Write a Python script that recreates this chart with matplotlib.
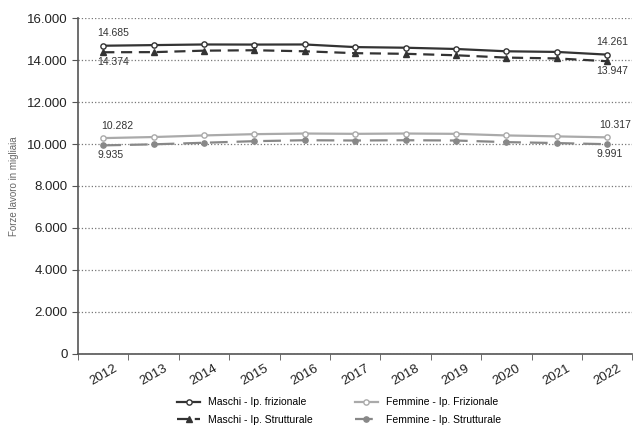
import matplotlib
matplotlib.use("Agg")
import matplotlib.pyplot as plt
import numpy as np

plt.rcParams['font.family'] = ['Liberation Sans', 'DejaVu Sans']

years = ["2012", "2013", "2014", "2015", "2016", "2017", "2018", "2019", "2020", "2021", "2022"]
maschi_friz = [14685, 14715, 14745, 14740, 14745, 14620, 14590, 14530, 14420, 14390, 14261]
maschi_strut = [14374, 14380, 14450, 14470, 14420, 14330, 14300, 14230, 14120, 14080, 13947]
femmine_friz = [10282, 10333, 10409, 10470, 10500, 10485, 10500, 10485, 10409, 10364, 10317]
femmine_strut = [9935, 9985, 10060, 10136, 10180, 10167, 10180, 10167, 10090, 10045, 9991]

fig = plt.figure(figsize=(6.4, 4.32), dpi=100)
ax = fig.add_axes([0.122, 0.181, 0.866, 0.777])
x = np.arange(len(years))

l1, = ax.plot(x, maschi_friz, color="#333333", lw=1.6, marker="o", ms=3.8,
              mfc="white", mec="#333333", label="Maschi - Ip. frizionale")
l2, = ax.plot(x, maschi_strut, color="#333333", lw=1.6, ls=(0, (5, 3)), marker="^", ms=3.8,
              mfc="#333333", label="Maschi - Ip. Strutturale")
l3, = ax.plot(x, femmine_friz, color="#aaaaaa", lw=1.6, marker="o", ms=3.8,
              mfc="white", mec="#aaaaaa", label="Femmine - Ip. Frizionale")
l4, = ax.plot(x, femmine_strut, color="#888888", lw=1.6, ls=(0, (8, 4)), marker="o", ms=3.8,
              mfc="#888888", label="Femmine - Ip. Strutturale")

def fmt(v):
    return f"{v:,}".replace(",", ".")

lab = dict(fontsize=7.5, color="#333333")
ax.text(x[0] - 0.12, maschi_friz[0] + 450, fmt(maschi_friz[0]), ha="left", **lab)
ax.text(x[0] - 0.12, maschi_strut[0] - 600, fmt(maschi_strut[0]), ha="left", **lab)
ax.text(x[0] - 0.05, femmine_friz[0] + 450, fmt(femmine_friz[0]), ha="left", **lab)
ax.text(x[0] - 0.12, femmine_strut[0] - 600, fmt(femmine_strut[0]), ha="left", **lab)
ax.text(x[-1] + 0.1, maschi_friz[-1] + 450, fmt(maschi_friz[-1]), ha="center", **lab)
ax.text(x[-1] + 0.1, maschi_strut[-1] - 600, fmt(maschi_strut[-1]), ha="center", **lab)
ax.text(x[-1] + 0.15, femmine_friz[-1] + 450, fmt(femmine_friz[-1]), ha="center", **lab)
ax.text(x[-1] + 0.05, femmine_strut[-1] - 600, fmt(femmine_strut[-1]), ha="center", **lab)

ax.set_xlim(-0.5, len(years) - 0.5)
ax.set_ylim(0, 16000)
ax.set_yticks(np.arange(0, 16001, 2000))
ax.set_yticklabels([fmt(v) for v in range(0, 16001, 2000)], fontsize=9.5, color="#222222")
ax.set_xticks(x)
ax.set_xticklabels(years, rotation=30, fontsize=9.5, color="#222222")
ax.set_xticks(np.arange(-0.5, len(years)), minor=True)
ax.tick_params(axis="x", which="major", length=0, pad=6)
ax.tick_params(axis="x", which="minor", length=4, color="#555555", direction="out")
ax.tick_params(axis="y", length=4, color="#555555", direction="out")
ax.grid(axis="y", ls=":", color="#777777", lw=0.9)
ax.set_axisbelow(True)
for s in ["top", "right"]:
    ax.spines[s].set_visible(False)
for s in ["left", "bottom"]:
    ax.spines[s].set_color("#555555")
    ax.spines[s].set_linewidth(1.2)

ax.set_ylabel("Forze lavoro in migliaia", fontsize=7, color="#666666", labelpad=6)

fig.legend(handles=[l1, l2, l3, l4], loc="lower center", ncol=2, frameon=False,
           fontsize=7.5, bbox_to_anchor=(0.53, -0.005), columnspacing=4, handlelength=2.2,
           labelspacing=0.7)

fig.savefig("out.png", dpi=100)
